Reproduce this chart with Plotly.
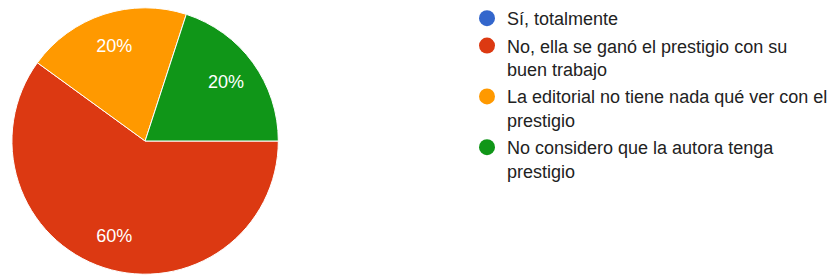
import plotly.graph_objects as go

categories = [
    "Sí, totalmente",
    "No, ella se ganó el prestigio con su<br>buen trabajo",
    "La editorial no tiene nada qué ver con el<br>prestigio",
    "No considero que la autora tenga<br>prestigio",
]
values = [0, 60, 20, 20]
colors = ["#3366CC", "#DC3912", "#FF9900", "#109618"]

W, H = 833, 279
dom = dict(x=[12 / W, 280 / W], y=[4 / H, 272 / H])
fig = go.Figure()
# filled slices
fig.add_trace(go.Pie(
    labels=categories, values=values, sort=False, direction="clockwise",
    rotation=90, marker=dict(colors=colors, line=dict(color="white", width=1)),
    textinfo="none", showlegend=False, hoverinfo="skip", domain=dom,
))
# percentage labels (ring layer so labels sit further out)
fig.add_trace(go.Pie(
    labels=categories, values=values, sort=False, direction="clockwise",
    rotation=90, hole=0.5,
    marker=dict(colors=["rgba(0,0,0,0)"] * len(values), line=dict(width=0)),
    textinfo="percent", textposition="inside", insidetextorientation="horizontal",
    texttemplate="%{percent:.0%}",
    textfont=dict(family="Arial", size=18, color="white"),
    showlegend=False, hoverinfo="skip", domain=dom,
))
for name, col in zip(categories, colors):
    fig.add_trace(go.Scatter(
        x=[None], y=[None], mode="markers", name=name,
        marker=dict(color=col, size=16, symbol="circle"),
        legendgroup=name,
    ))

fig.update_layout(
    width=W, height=H, margin=dict(l=0, r=0, t=0, b=0),
    paper_bgcolor="white", plot_bgcolor="white",
    xaxis=dict(visible=False), yaxis=dict(visible=False),
    font=dict(family="Arial", size=18, color="#222222"),
    legend=dict(x=470 / W, y=1, xanchor="left", yanchor="top",
                valign="top", tracegroupgap=1,
                font=dict(family="Arial", size=18, color="#222222")),
)
fig.write_html("out.html", config={"displayModeBar": False},
               post_script="document.body.style.margin='0px';")
